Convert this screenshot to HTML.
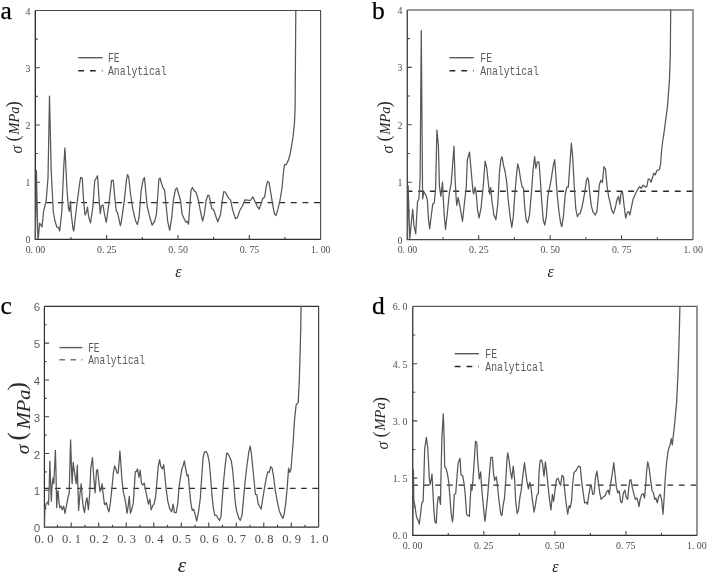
<!DOCTYPE html>
<html><head><meta charset="utf-8"><title>Stress-strain curves</title>
<style>
html,body{margin:0;padding:0;background:#fff;}
svg{display:block;}
text{white-space:pre;}
</style></head>
<body>
<svg width="708" height="574" viewBox="0 0 708 574">
<rect width="708" height="574" fill="#fff"/>
<path d="M35.3,10.5H320.6V239.4" fill="none" stroke="#4a4a4a" stroke-width="1.1"/>
<path d="M35.3,10.5V239.4H320.6" fill="none" stroke="#2e2e2e" stroke-width="1.35"/>
<path d="M70.96,239.4v-2.3M106.62,239.4v-4.3M142.29,239.4v-2.3M177.95,239.4v-4.3M213.61,239.4v-2.3M249.28,239.4v-4.3M284.94,239.4v-2.3" stroke="#444" stroke-width="1.1" fill="none"/>
<path d="M35.3,210.79h2.5M35.3,182.18h4.5M35.3,153.56h2.5M35.3,124.95h4.5M35.3,96.34h2.5M35.3,67.72h4.5M35.3,39.11h2.5" stroke="#444" stroke-width="1.1" fill="none"/>
<line x1="35.3" y1="202.6" x2="320.6" y2="202.6" stroke="#2a2a2a" stroke-width="1.4" stroke-dasharray="5.881 5.764" stroke-dashoffset="0.7"/>
<polyline points="35.4,239.0 36.0,200.0 36.4,170.5 37.0,200.0 37.9,238.6 38.3,238.2 39.6,223.2 42.0,227.0 43.7,210.7 46.2,200.8 48.0,178.0 49.5,96.2 51.2,171.0 53.3,212.0 55.0,221.0 56.8,227.0 58.2,227.0 59.7,231.0 61.8,212.0 63.9,164.0 64.9,148.0 67.0,189.5 68.4,208.0 69.3,211.4 70.5,201.5 71.2,213.5 73.0,229.0 73.8,231.0 76.6,206.5 79.4,185.3 80.6,177.5 82.3,178.2 83.7,202.2 85.1,215.0 86.5,212.0 87.5,207.2 88.6,216.4 90.5,223.0 92.9,206.5 94.7,181.0 97.5,175.7 99.2,200.8 100.3,213.5 101.3,205.8 103.0,205.0 104.9,216.4 106.3,222.3 109.1,202.3 111.6,180.4 113.3,180.4 114.7,196.6 116.2,210.7 117.6,212.9 120.4,225.6 121.4,221.4 124.2,201.6 126.4,180.4 127.5,174.5 128.8,177.6 130.6,194.5 132.7,208.7 135.5,220.7 137.4,224.5 139.1,217.1 141.2,190.3 143.0,180.4 144.4,177.6 145.4,187.5 147.1,205.8 149.7,217.1 152.2,225.2 154.6,221.4 156.4,214.3 157.9,194.5 158.8,179.7 160.0,178.0 161.7,184.0 163.1,188.2 164.5,189.6 165.9,203.0 167.7,221.4 169.7,230.3 171.6,218.6 173.4,200.2 175.4,189.6 176.8,187.8 178.6,193.8 180.5,200.2 182.1,214.3 183.8,217.9 185.7,222.1 187.1,221.4 188.5,224.2 189.6,208.7 191.0,190.3 192.5,187.5 194.2,191.0 196.0,192.0 198.4,200.2 200.5,211.5 202.6,221.0 204.3,214.3 206.2,200.2 207.9,195.3 209.0,195.3 210.4,201.6 211.8,208.7 213.2,209.4 214.3,211.5 216.8,219.3 217.8,221.8 220.6,214.3 222.1,201.6 223.8,191.7 225.2,192.0 227.0,195.3 228.4,198.1 230.5,199.9 232.7,210.1 235.5,218.6 237.3,217.9 239.7,210.8 242.5,205.8 244.9,199.9 247.5,200.2 250.3,200.5 252.9,196.9 255.3,202.3 257.4,206.6 259.2,209.0 260.9,204.4 262.7,198.8 264.7,196.7 266.1,187.5 267.5,181.4 269.1,182.5 270.8,193.1 272.9,205.8 274.6,214.3 276.0,215.5 277.9,209.4 280.0,200.2 282.1,187.5 283.5,172.0 284.5,164.6 286.3,164.6 288.2,160.6 289.9,155.0 291.0,149.2 293.1,136.5 294.5,122.4 295.1,108.2 295.3,80.0 295.8,10.5" fill="none" stroke="#575757" stroke-width="1.25" stroke-linejoin="round" stroke-linecap="round"/>
<text x="25.70 30.55 35.40 40.25" y="253.10" font-family="'Liberation Serif', serif" font-size="9.9" fill="#4c4c4c">0.00</text>
<text x="97.03 101.88 106.73 111.58" y="253.10" font-family="'Liberation Serif', serif" font-size="9.9" fill="#4c4c4c">0.25</text>
<text x="168.35 173.20 178.05 182.90" y="253.10" font-family="'Liberation Serif', serif" font-size="9.9" fill="#4c4c4c">0.50</text>
<text x="239.68 244.53 249.38 254.23" y="253.10" font-family="'Liberation Serif', serif" font-size="9.9" fill="#4c4c4c">0.75</text>
<text x="311.00 315.85 320.70 325.55" y="253.10" font-family="'Liberation Serif', serif" font-size="9.9" fill="#4c4c4c">1.00</text>
<text x="25.50" y="243.40" font-family="'Liberation Serif', serif" font-size="9.9" fill="#4c4c4c">0</text>
<text x="25.50" y="186.18" font-family="'Liberation Serif', serif" font-size="9.9" fill="#4c4c4c">1</text>
<text x="25.50" y="128.95" font-family="'Liberation Serif', serif" font-size="9.9" fill="#4c4c4c">2</text>
<text x="25.50" y="71.72" font-family="'Liberation Serif', serif" font-size="9.9" fill="#4c4c4c">3</text>
<text x="25.50" y="14.50" font-family="'Liberation Serif', serif" font-size="9.9" fill="#4c4c4c">4</text>
<text x="0.6" y="18.9" font-family="'Liberation Serif', serif" font-size="25.5" fill="#000" stroke="#000" stroke-width="0.25">a</text>
<line x1="78.2" y1="57.7" x2="102.5" y2="57.7" stroke="#5a5a5a" stroke-width="1.4"/>
<line x1="78.2" y1="70.7" x2="102.5" y2="70.7" stroke="#2a2a2a" stroke-width="1.5" stroke-dasharray="5.8 6"/>
<text x="108" y="61.88" font-family="'Liberation Mono', monospace" font-size="12.3" fill="#5a5a5a" textLength="11.70" lengthAdjust="spacingAndGlyphs">FE</text>
<text x="108" y="74.88" font-family="'Liberation Mono', monospace" font-size="12.3" fill="#5a5a5a" textLength="58.50" lengthAdjust="spacingAndGlyphs">Analytical</text>
<text transform="translate(22.00,153.60) rotate(-90)" font-family="'Liberation Serif', serif" fill="#2a2a2a" font-size="16.0" font-style="italic">σ</text>
<text transform="translate(19.20,141.60) rotate(-90)" font-family="'Liberation Serif', serif" fill="#2a2a2a" font-size="18.5">(</text>
<text transform="translate(18.80,134.60) rotate(-90)" font-family="'Liberation Serif', serif" fill="#2a2a2a" font-size="14.0" font-style="italic" textLength="28.0" lengthAdjust="spacingAndGlyphs">MPa</text>
<text transform="translate(19.20,107.30) rotate(-90)" font-family="'Liberation Serif', serif" fill="#2a2a2a" font-size="18.5">)</text>
<text x="178.3" y="277.2" text-anchor="middle" font-family="'Liberation Serif', serif" font-style="italic" font-size="16" fill="#222">ε</text>
<path d="M407.3,9.9H693.0V239.6" fill="none" stroke="#777" stroke-width="1.5"/>
<path d="M407.3,9.9V239.6H693.0" fill="none" stroke="#484848" stroke-width="1.4"/>
<path d="M443.01,239.6v-2.3M478.73,239.6v-4.3M514.44,239.6v-2.3M550.15,239.6v-4.3M585.86,239.6v-2.3M621.58,239.6v-4.3M657.29,239.6v-2.3" stroke="#444" stroke-width="1.1" fill="none"/>
<path d="M407.3,210.89h2.5M407.3,182.18h4.5M407.3,153.46h2.5M407.3,124.75h4.5M407.3,96.04h2.5M407.3,67.33h4.5M407.3,38.61h2.5" stroke="#444" stroke-width="1.1" fill="none"/>
<line x1="407.3" y1="191.2" x2="693.0" y2="191.2" stroke="#2a2a2a" stroke-width="1.4" stroke-dasharray="5.889 5.772" stroke-dashoffset="0.7"/>
<polyline points="407.5,239.0 408.1,185.6 409.8,238.5 412.7,209.4 414.0,225.8 415.7,233.6 416.8,214.5 417.5,201.8 418.9,199.0 420.1,179.2 421.3,30.5 422.6,199.0 423.9,191.9 426.0,195.4 427.4,200.4 428.4,218.7 429.7,228.6 431.4,214.5 432.8,203.9 434.2,203.2 435.6,189.1 436.9,130.0 438.4,145.7 439.4,186.2 440.8,196.1 442.5,182.0 443.2,197.5 444.4,217.3 445.5,229.3 447.2,214.5 449.3,193.3 451.2,183.4 452.6,165.0 454.0,146.2 455.0,176.4 456.1,197.5 456.8,205.3 458.1,197.5 459.9,206.0 461.3,214.5 462.5,221.3 464.1,206.0 466.3,186.2 467.3,160.0 469.5,152.1 471.9,179.2 473.0,191.9 473.8,194.0 475.0,187.0 476.2,193.3 477.6,210.3 479.1,218.0 481.1,207.4 483.2,186.2 485.1,161.2 486.7,167.9 488.2,182.0 489.6,194.0 490.7,187.7 491.7,199.0 493.8,214.5 495.9,219.7 497.8,204.2 499.4,173.1 500.9,159.1 502.1,156.8 503.5,165.3 505.1,171.5 506.7,182.4 508.2,199.5 510.1,216.6 511.8,227.5 513.3,216.6 514.9,193.3 516.4,176.2 517.7,163.8 519.1,169.2 520.6,179.3 522.2,187.1 523.4,187.8 524.5,204.2 526.1,219.7 527.6,222.8 529.5,215.0 531.5,191.7 533.1,170.0 534.6,156.5 535.9,168.4 537.3,161.9 539.0,162.2 540.4,180.8 541.6,199.5 543.2,219.7 544.7,225.1 546.3,216.6 547.8,196.4 549.4,188.6 551.2,179.3 553.3,165.3 554.7,159.6 555.9,176.2 557.2,194.8 559.0,211.9 560.6,222.8 561.8,226.7 563.4,216.6 565.2,194.8 566.8,187.1 568.3,187.1 569.6,168.4 571.4,143.2 572.7,157.5 574.2,185.5 575.8,208.8 577.4,216.6 578.6,214.3 580.1,213.5 582.0,207.3 584.3,194.8 586.4,180.8 587.5,177.7 588.5,180.1 589.8,193.3 591.3,205.7 592.9,211.9 595.2,215.0 596.8,211.9 598.0,201.0 599.3,185.0 600.8,180.3 602.4,182.4 603.9,166.7 605.5,169.2 607.0,185.5 608.6,196.4 610.1,202.6 611.7,210.4 613.5,213.5 615.4,207.3 617.0,199.5 618.5,196.4 619.8,204.2 621.0,193.3 622.5,191.7 624.1,205.7 625.7,218.1 627.2,212.7 628.8,211.6 629.9,215.0 631.4,207.3 633.0,199.5 635.3,194.1 637.6,189.4 639.6,186.7 641.2,188.3 643.1,185.2 645.4,187.1 646.9,186.3 648.2,179.0 649.6,179.3 651.1,182.1 652.4,177.7 653.9,173.1 655.2,174.9 657.0,170.3 659.4,169.7 660.6,163.8 661.5,151.3 662.6,142.0 664.2,131.4 667.5,106.1 669.4,80.9 670.3,55.6 670.7,10.0" fill="none" stroke="#575757" stroke-width="1.25" stroke-linejoin="round" stroke-linecap="round"/>
<text x="397.70 402.55 407.40 412.25" y="253.10" font-family="'Liberation Serif', serif" font-size="9.9" fill="#4c4c4c">0.00</text>
<text x="469.12 473.98 478.82 483.68" y="253.10" font-family="'Liberation Serif', serif" font-size="9.9" fill="#4c4c4c">0.25</text>
<text x="540.55 545.40 550.25 555.10" y="253.10" font-family="'Liberation Serif', serif" font-size="9.9" fill="#4c4c4c">0.50</text>
<text x="611.98 616.83 621.68 626.52" y="253.10" font-family="'Liberation Serif', serif" font-size="9.9" fill="#4c4c4c">0.75</text>
<text x="683.40 688.25 693.10 697.95" y="253.10" font-family="'Liberation Serif', serif" font-size="9.9" fill="#4c4c4c">1.00</text>
<text x="397.50" y="243.60" font-family="'Liberation Serif', serif" font-size="9.9" fill="#4c4c4c">0</text>
<text x="397.50" y="186.18" font-family="'Liberation Serif', serif" font-size="9.9" fill="#4c4c4c">1</text>
<text x="397.50" y="128.75" font-family="'Liberation Serif', serif" font-size="9.9" fill="#4c4c4c">2</text>
<text x="397.50" y="71.33" font-family="'Liberation Serif', serif" font-size="9.9" fill="#4c4c4c">3</text>
<text x="397.50" y="13.90" font-family="'Liberation Serif', serif" font-size="9.9" fill="#4c4c4c">4</text>
<text x="372.0" y="18.9" font-family="'Liberation Serif', serif" font-size="25.5" fill="#000" stroke="#000" stroke-width="0.25">b</text>
<line x1="449.5" y1="57.7" x2="473.8" y2="57.7" stroke="#5a5a5a" stroke-width="1.4"/>
<line x1="449.5" y1="70.7" x2="473.8" y2="70.7" stroke="#2a2a2a" stroke-width="1.5" stroke-dasharray="5.8 6"/>
<text x="480.3" y="61.88" font-family="'Liberation Mono', monospace" font-size="12.3" fill="#5a5a5a" textLength="11.70" lengthAdjust="spacingAndGlyphs">FE</text>
<text x="480.3" y="74.88" font-family="'Liberation Mono', monospace" font-size="12.3" fill="#5a5a5a" textLength="58.50" lengthAdjust="spacingAndGlyphs">Analytical</text>
<text transform="translate(392.70,153.60) rotate(-90)" font-family="'Liberation Serif', serif" fill="#2a2a2a" font-size="16.0" font-style="italic">σ</text>
<text transform="translate(389.90,141.60) rotate(-90)" font-family="'Liberation Serif', serif" fill="#2a2a2a" font-size="18.5">(</text>
<text transform="translate(389.50,134.60) rotate(-90)" font-family="'Liberation Serif', serif" fill="#2a2a2a" font-size="14.0" font-style="italic" textLength="28.0" lengthAdjust="spacingAndGlyphs">MPa</text>
<text transform="translate(389.90,107.30) rotate(-90)" font-family="'Liberation Serif', serif" fill="#2a2a2a" font-size="18.5">)</text>
<text x="550.6" y="277.2" text-anchor="middle" font-family="'Liberation Serif', serif" font-style="italic" font-size="16" fill="#222">ε</text>
<path d="M44.4,306.35H318.65V527.1" fill="none" stroke="#333" stroke-width="1.1"/>
<path d="M44.4,306.35V527.1H318.65" fill="none" stroke="#2e2e2e" stroke-width="1.2"/>
<path d="M57.46,527.1v-2.3M71.21,527.1v-4.5M84.97,527.1v-2.3M98.72,527.1v-4.5M112.48,527.1v-2.3M126.23,527.1v-4.5M139.99,527.1v-2.3M153.74,527.1v-4.5M167.50,527.1v-2.3M181.25,527.1v-4.5M195.01,527.1v-2.3M208.76,527.1v-4.5M222.52,527.1v-2.3M236.27,527.1v-4.5M250.03,527.1v-2.3M263.78,527.1v-4.5M277.54,527.1v-2.3M291.29,527.1v-4.5M305.05,527.1v-2.3" stroke="#444" stroke-width="1.1" fill="none"/>
<path d="M44.4,508.70h2.3M44.4,490.31h4.7M44.4,471.91h2.3M44.4,453.52h4.7M44.4,435.12h2.3M44.4,416.73h4.7M44.4,398.33h2.3M44.4,379.93h4.7M44.4,361.54h2.3M44.4,343.14h4.7M44.4,324.75h2.3" stroke="#444" stroke-width="1.1" fill="none"/>
<line x1="44.4" y1="488.4" x2="318.65" y2="488.4" stroke="#2a2a2a" stroke-width="1.4" stroke-dasharray="5.653 5.541" stroke-dashoffset="0.7"/>
<polyline points="44.5,527.0 44.9,509.0 46.4,503.4 47.8,502.0 48.5,504.8 49.2,486.4 49.9,461.0 50.5,479.4 51.3,501.3 52.0,486.4 53.0,478.0 53.8,483.6 54.7,465.2 55.4,450.4 56.0,472.3 56.7,507.6 57.4,493.5 58.1,490.7 58.8,500.6 59.8,507.6 61.2,506.2 62.3,509.7 63.7,506.2 65.0,513.3 66.6,504.8 68.2,496.3 69.2,493.5 69.9,465.2 70.6,439.8 71.4,465.2 72.1,483.6 73.2,462.4 74.3,470.9 76.2,483.6 77.3,465.2 77.9,486.4 78.6,510.4 80.0,493.5 81.2,483.6 82.1,496.3 83.1,506.2 84.5,512.6 85.9,502.0 87.0,497.7 88.4,509.7 89.7,493.5 90.8,468.1 92.5,457.5 93.4,472.3 94.4,485.0 95.1,492.8 96.5,470.9 97.6,469.5 98.6,479.4 100.0,491.4 101.2,489.3 102.1,483.6 103.1,493.5 104.3,503.4 105.0,504.8 106.4,502.7 107.5,507.6 108.9,511.9 110.3,503.4 112.0,487.8 113.4,472.3 114.6,466.0 115.8,468.8 117.0,473.0 118.1,473.0 119.1,462.4 119.9,451.1 120.8,462.4 121.9,479.4 123.3,492.1 124.7,497.7 126.2,506.2 127.0,513.3 128.0,507.6 129.3,496.3 130.4,513.3 131.8,509.0 133.2,503.4 134.4,486.4 135.3,471.6 136.4,471.7 137.5,468.8 139.0,477.3 140.2,470.2 141.4,483.0 142.8,485.1 144.2,483.0 145.6,490.0 147.0,497.1 148.4,504.1 149.8,499.2 151.2,509.8 152.7,505.6 154.1,504.1 155.8,495.7 156.9,481.5 158.3,466.0 159.6,459.7 160.8,466.7 162.5,468.8 163.7,464.6 164.7,474.5 166.1,488.6 167.8,501.3 169.6,508.4 171.7,511.9 173.1,504.1 174.5,512.6 176.2,512.6 177.7,504.1 179.1,487.2 180.5,477.3 181.9,468.8 183.3,465.3 184.4,460.8 185.6,468.1 187.0,475.9 188.2,474.8 189.4,488.6 190.8,502.7 192.2,510.5 193.6,509.1 195.0,514.0 196.7,521.1 198.6,511.2 200.3,498.5 201.7,477.3 203.1,457.5 204.5,451.9 206.3,451.6 207.7,454.7 209.2,461.8 210.6,477.3 212.0,495.7 213.4,508.4 214.8,515.4 216.6,515.4 217.6,517.6 219.5,520.4 220.9,516.9 222.3,498.5 223.7,480.1 225.4,463.2 226.8,453.0 228.2,454.0 229.9,457.5 231.3,461.1 232.7,470.2 233.9,484.4 235.0,499.9 236.4,509.8 238.5,517.6 240.3,520.4 242.0,515.4 243.4,499.9 245.1,481.5 246.9,466.0 248.8,451.9 250.2,446.2 251.5,454.7 252.9,468.8 254.3,483.0 255.4,494.3 256.8,494.5 258.2,504.1 259.7,506.3 261.1,509.1 262.8,498.5 264.6,487.2 266.4,477.3 267.9,471.7 269.3,472.4 270.7,466.7 272.1,468.1 273.5,475.9 275.2,490.0 277.3,501.3 279.4,511.2 281.6,516.2 283.0,518.3 284.4,512.6 285.8,502.7 287.2,487.2 288.6,468.1 289.7,472.4 291.0,469.5 292.1,454.7 293.2,442.0 294.4,421.4 296.1,404.9 298.2,402.4 299.2,383.4 300.2,350.6 300.8,325.3 301.1,306.4" fill="none" stroke="#575757" stroke-width="1.25" stroke-linejoin="round" stroke-linecap="round"/>
<text x="34.60 40.90 47.20" y="542.90" font-family="'Liberation Serif', serif" font-size="12.5" fill="#4c4c4c">0.0</text>
<text x="62.11 68.41 74.71" y="542.90" font-family="'Liberation Serif', serif" font-size="12.5" fill="#4c4c4c">0.1</text>
<text x="89.62 95.92 102.22" y="542.90" font-family="'Liberation Serif', serif" font-size="12.5" fill="#4c4c4c">0.2</text>
<text x="117.13 123.43 129.73" y="542.90" font-family="'Liberation Serif', serif" font-size="12.5" fill="#4c4c4c">0.3</text>
<text x="144.64 150.94 157.24" y="542.90" font-family="'Liberation Serif', serif" font-size="12.5" fill="#4c4c4c">0.4</text>
<text x="172.15 178.45 184.75" y="542.90" font-family="'Liberation Serif', serif" font-size="12.5" fill="#4c4c4c">0.5</text>
<text x="199.66 205.96 212.26" y="542.90" font-family="'Liberation Serif', serif" font-size="12.5" fill="#4c4c4c">0.6</text>
<text x="227.17 233.47 239.77" y="542.90" font-family="'Liberation Serif', serif" font-size="12.5" fill="#4c4c4c">0.7</text>
<text x="254.68 260.98 267.28" y="542.90" font-family="'Liberation Serif', serif" font-size="12.5" fill="#4c4c4c">0.8</text>
<text x="282.19 288.49 294.79" y="542.90" font-family="'Liberation Serif', serif" font-size="12.5" fill="#4c4c4c">0.9</text>
<text x="309.70 316.00 322.30" y="542.90" font-family="'Liberation Serif', serif" font-size="12.5" fill="#4c4c4c">1.0</text>
<text x="40.1" y="532.10" text-anchor="end" font-family="'Liberation Sans', sans-serif" font-size="11.5" fill="#5c5c5c">0</text>
<text x="40.1" y="495.31" text-anchor="end" font-family="'Liberation Sans', sans-serif" font-size="11.5" fill="#5c5c5c">1</text>
<text x="40.1" y="458.52" text-anchor="end" font-family="'Liberation Sans', sans-serif" font-size="11.5" fill="#5c5c5c">2</text>
<text x="40.1" y="421.73" text-anchor="end" font-family="'Liberation Sans', sans-serif" font-size="11.5" fill="#5c5c5c">3</text>
<text x="40.1" y="384.93" text-anchor="end" font-family="'Liberation Sans', sans-serif" font-size="11.5" fill="#5c5c5c">4</text>
<text x="40.1" y="348.14" text-anchor="end" font-family="'Liberation Sans', sans-serif" font-size="11.5" fill="#5c5c5c">5</text>
<text x="40.1" y="311.35" text-anchor="end" font-family="'Liberation Sans', sans-serif" font-size="11.5" fill="#5c5c5c">6</text>
<text x="0.6" y="314.4" font-family="'Liberation Serif', serif" font-size="25.5" fill="#000" stroke="#000" stroke-width="0.25">c</text>
<line x1="59.4" y1="347.6" x2="82.4" y2="347.6" stroke="#5a5a5a" stroke-width="1.4"/>
<line x1="59.4" y1="359.7" x2="82.4" y2="359.7" stroke="#777" stroke-width="1.5" stroke-dasharray="5.6 5.4"/>
<text x="88.2" y="351.65" font-family="'Liberation Mono', monospace" font-size="11.9" fill="#5a5a5a" textLength="11.34" lengthAdjust="spacingAndGlyphs">FE</text>
<text x="88.2" y="363.75" font-family="'Liberation Mono', monospace" font-size="11.9" fill="#5a5a5a" textLength="56.70" lengthAdjust="spacingAndGlyphs">Analytical</text>
<text transform="translate(29.19,454.19) rotate(-90)" font-family="'Liberation Serif', serif" fill="#2a2a2a" font-size="19.7" font-style="italic">σ</text>
<text transform="translate(24.61,440.44) rotate(-90)" font-family="'Liberation Serif', serif" fill="#2a2a2a" font-size="25.2">(</text>
<text transform="translate(29.72,429.30) rotate(-90)" font-family="'Liberation Serif', serif" fill="#2a2a2a" font-size="18.3" font-style="italic" textLength="39.8" lengthAdjust="spacingAndGlyphs">MPa</text>
<text transform="translate(24.61,390.53) rotate(-90)" font-family="'Liberation Serif', serif" fill="#2a2a2a" font-size="25.2">)</text>
<text x="182" y="572" text-anchor="middle" font-family="'Liberation Serif', serif" font-style="italic" font-size="21" fill="#222">ε</text>
<path d="M412.75,306.45H697V535.4" fill="none" stroke="#5e5e5e" stroke-width="1.3"/>
<path d="M412.75,306.45V535.4H697" fill="none" stroke="#2e2e2e" stroke-width="1.25"/>
<path d="M448.28,535.4v-2.3M483.81,535.4v-4.3M519.34,535.4v-2.3M554.88,535.4v-4.3M590.41,535.4v-2.3M625.94,535.4v-4.3M661.47,535.4v-2.3" stroke="#444" stroke-width="1.1" fill="none"/>
<path d="M412.75,506.78h2.5M412.75,478.16h4.5M412.75,449.54h2.5M412.75,420.92h4.5M412.75,392.31h2.5M412.75,363.69h4.5M412.75,335.07h2.5" stroke="#444" stroke-width="1.1" fill="none"/>
<line x1="412.75" y1="485.1" x2="697" y2="485.1" stroke="#2a2a2a" stroke-width="1.4" stroke-dasharray="5.859 5.743" stroke-dashoffset="0.7"/>
<polyline points="412.6,534.5 413.0,500.0 413.4,469.7 413.8,500.0 415.1,507.1 416.5,517.0 417.9,519.9 419.3,524.1 420.7,512.8 421.8,502.9 423.1,501.5 423.8,480.3 424.7,448.7 426.4,437.4 427.8,448.7 428.5,462.0 429.2,477.5 430.2,484.5 431.0,480.3 432.0,474.0 432.7,487.4 433.8,508.6 434.8,521.3 436.2,523.4 437.2,505.7 438.1,497.3 439.1,496.6 440.5,504.3 440.9,480.0 441.9,437.4 443.3,413.8 444.3,444.4 444.7,467.0 446.1,468.4 447.3,473.2 448.7,481.7 449.7,494.4 451.1,512.8 452.5,522.0 453.2,515.6 454.3,494.4 455.7,493.7 456.7,480.3 458.1,463.4 460.0,458.3 461.0,474.7 462.8,476.1 464.2,484.5 465.2,494.4 466.6,514.2 468.0,515.6 469.4,516.3 470.1,501.5 471.1,484.5 472.0,490.2 472.7,483.1 473.5,472.0 474.4,458.6 475.5,441.3 476.8,442.3 477.6,458.6 478.6,471.3 479.3,478.9 480.7,471.8 481.4,484.5 482.9,501.5 484.3,515.6 485.0,521.3 486.1,511.4 487.8,494.4 489.2,476.1 490.8,457.3 492.4,457.4 493.5,473.2 494.6,480.3 496.3,476.8 497.3,484.5 499.1,501.5 500.8,514.2 501.9,515.6 503.3,504.3 504.4,498.7 505.8,480.3 507.0,459.1 507.7,452.8 508.9,459.1 510.3,470.4 511.8,478.9 513.2,466.2 514.6,478.9 515.7,501.5 517.1,513.5 518.5,510.0 519.9,497.3 521.4,488.8 522.8,476.1 524.5,462.7 525.6,471.8 527.0,481.7 528.4,488.8 529.8,482.4 531.0,487.4 532.4,500.1 534.1,512.1 535.5,504.3 536.9,495.1 538.3,493.7 539.0,473.2 540.0,461.2 541.4,459.8 542.5,463.4 544.0,476.1 545.4,461.9 546.8,473.2 548.2,487.4 549.6,500.1 551.0,510.0 552.4,494.4 553.6,501.5 555.0,490.2 556.4,479.6 558.1,478.2 559.5,483.1 560.6,485.3 562.0,475.4 563.5,476.8 564.4,487.4 565.9,501.5 567.7,514.2 569.1,505.7 570.1,507.9 571.5,501.5 572.6,484.5 574.0,472.5 575.7,471.1 577.2,468.3 578.6,466.2 580.3,466.9 581.4,478.9 582.8,490.2 584.6,502.9 586.3,502.2 587.5,504.3 588.9,494.4 590.3,486.0 591.3,486.0 592.7,494.4 594.1,493.7 595.5,477.5 596.9,471.1 598.3,481.7 599.6,492.0 601.1,499.4 602.9,497.3 605.1,495.8 606.8,491.6 608.2,490.2 609.3,494.4 610.7,483.1 612.1,474.7 613.8,462.7 614.9,473.2 616.4,487.4 617.8,493.0 619.2,490.9 620.6,501.5 622.0,502.9 623.4,493.0 624.8,490.2 626.2,497.3 627.7,499.4 628.8,487.4 629.8,480.3 630.9,479.6 632.3,487.4 634.0,494.4 635.4,499.4 636.8,498.0 638.0,501.5 639.0,506.7 640.1,499.4 641.5,495.1 643.2,493.7 644.6,498.0 645.7,484.5 646.7,470.4 647.7,461.9 649.1,467.6 650.5,478.9 652.0,490.2 653.4,493.0 654.8,499.4 655.9,498.0 657.3,502.9 658.7,496.6 660.1,494.2 661.6,499.4 663.0,514.2 664.1,498.7 665.1,480.3 666.5,463.4 667.9,452.1 668.9,447.8 670.1,444.9 671.3,438.6 672.3,444.9 674.9,421.4 676.7,401.1 677.9,375.9 678.8,350.6 679.5,325.3 679.9,306.4" fill="none" stroke="#575757" stroke-width="1.25" stroke-linejoin="round" stroke-linecap="round"/>
<text x="402.85 407.70 412.55 417.40" y="548.50" font-family="'Liberation Serif', serif" font-size="9.9" fill="#4c4c4c">0.00</text>
<text x="473.91 478.76 483.61 488.46" y="548.50" font-family="'Liberation Serif', serif" font-size="9.9" fill="#4c4c4c">0.25</text>
<text x="544.98 549.83 554.68 559.52" y="548.50" font-family="'Liberation Serif', serif" font-size="9.9" fill="#4c4c4c">0.50</text>
<text x="616.04 620.89 625.74 630.59" y="548.50" font-family="'Liberation Serif', serif" font-size="9.9" fill="#4c4c4c">0.75</text>
<text x="687.10 691.95 696.80 701.65" y="548.50" font-family="'Liberation Serif', serif" font-size="9.9" fill="#4c4c4c">1.00</text>
<text x="392.80 397.65 402.50" y="539.40" font-family="'Liberation Serif', serif" font-size="9.9" fill="#4c4c4c">0.0</text>
<text x="392.80 397.65 402.50" y="482.16" font-family="'Liberation Serif', serif" font-size="9.9" fill="#4c4c4c">1.5</text>
<text x="392.80 397.65 402.50" y="424.92" font-family="'Liberation Serif', serif" font-size="9.9" fill="#4c4c4c">3.0</text>
<text x="392.80 397.65 402.50" y="367.69" font-family="'Liberation Serif', serif" font-size="9.9" fill="#4c4c4c">4.5</text>
<text x="392.80 397.65 402.50" y="310.45" font-family="'Liberation Serif', serif" font-size="9.9" fill="#4c4c4c">6.0</text>
<text x="372.0" y="314.4" font-family="'Liberation Serif', serif" font-size="25.5" fill="#000" stroke="#000" stroke-width="0.25">d</text>
<line x1="454.7" y1="353.7" x2="479.0" y2="353.7" stroke="#5a5a5a" stroke-width="1.4"/>
<line x1="454.7" y1="366.4" x2="479.0" y2="366.4" stroke="#2a2a2a" stroke-width="1.5" stroke-dasharray="5.8 6"/>
<text x="485.3" y="357.88" font-family="'Liberation Mono', monospace" font-size="12.3" fill="#5a5a5a" textLength="11.70" lengthAdjust="spacingAndGlyphs">FE</text>
<text x="485.3" y="370.58" font-family="'Liberation Mono', monospace" font-size="12.3" fill="#5a5a5a" textLength="58.50" lengthAdjust="spacingAndGlyphs">Analytical</text>
<text transform="translate(388.30,449.40) rotate(-90)" font-family="'Liberation Serif', serif" fill="#2a2a2a" font-size="16.0" font-style="italic">σ</text>
<text transform="translate(385.50,437.40) rotate(-90)" font-family="'Liberation Serif', serif" fill="#2a2a2a" font-size="18.5">(</text>
<text transform="translate(385.10,430.40) rotate(-90)" font-family="'Liberation Serif', serif" fill="#2a2a2a" font-size="14.0" font-style="italic" textLength="28.0" lengthAdjust="spacingAndGlyphs">MPa</text>
<text transform="translate(385.50,403.10) rotate(-90)" font-family="'Liberation Serif', serif" fill="#2a2a2a" font-size="18.5">)</text>
<text x="555.3" y="571.5" text-anchor="middle" font-family="'Liberation Serif', serif" font-style="italic" font-size="16" fill="#222">ε</text>
</svg>
</body></html>
